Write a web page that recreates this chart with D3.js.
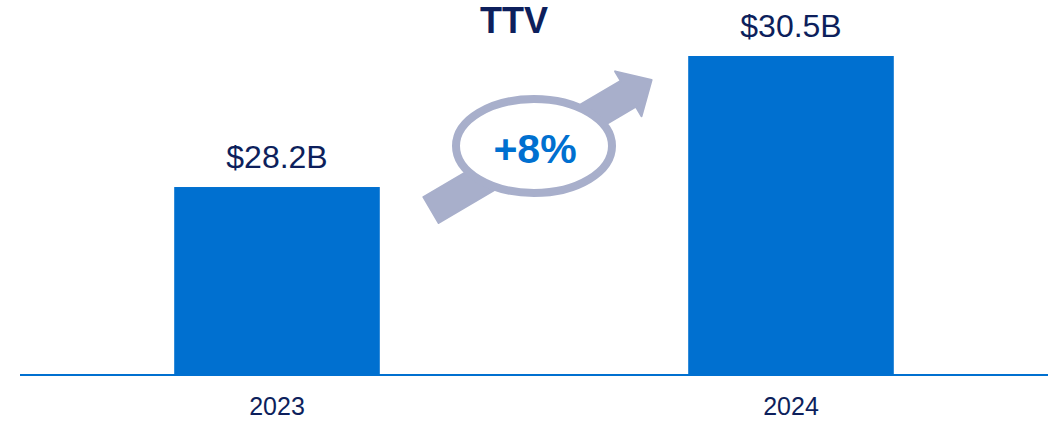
<!DOCTYPE html>
<html>
<head>
<meta charset="utf-8">
<script src="https://cdn.jsdelivr.net/npm/d3@7"></script>
<style>
  html, body { margin: 0; padding: 0; background: #ffffff; }
  svg { display: block; font-family: "Liberation Sans", Arial, sans-serif; }
</style>
</head>
<body>
<svg id="chart" width="1053" height="423"></svg>
<script>
// Total transaction value by year, in billions of dollars
const years = ["2023", "2024"];
const ttvValues = [28.2, 30.5];
const valueLabels = ["$28.2B", "$30.5B"];
const chartTitle = "TTV";

const W = 1053, H = 423;
const barColor = "#0070D0";
const textColor = "#0D1F5C";
const arrowColor = "#A8AFCB";

const svg = d3.select("#chart");

const x = d3.scaleBand()
  .domain(years)
  .range([20, 1048])
  .paddingInner(0.6)
  .paddingOuter(0.3);

// value axis starts above zero so the year-over-year gap reads clearly
const y = d3.scaleLinear()
  .domain([24.9, 30.5])
  .range([375, 56]);

const data = years.map((yr, i) => ({ year: yr, value: ttvValues[i], label: valueLabels[i] }));

// bars
svg.append("g")
  .selectAll("rect")
  .data(data)
  .join("rect")
  .attr("x", d => x(d.year))
  .attr("y", d => y(d.value))
  .attr("width", x.bandwidth())
  .attr("height", d => y.range()[0] - y(d.value))
  .attr("fill", barColor);

// baseline axis with year labels
const xAxis = svg.append("g")
  .attr("transform", `translate(0,${y.range()[0]})`)
  .call(d3.axisBottom(x).tickSize(0).tickPadding(0));
xAxis.select(".domain")
  .attr("d", `M${x.range()[0]},0H${x.range()[1]}`)
  .attr("stroke", barColor)
  .attr("stroke-width", 2);
xAxis.selectAll(".tick text")
  .attr("dy", null)
  .attr("y", 40)
  .attr("fill", textColor)
  .attr("font-size", 25)
  .attr("font-family", "Liberation Sans, Arial, sans-serif");

// value labels above bars
svg.append("g")
  .selectAll("text")
  .data(data)
  .join("text")
  .attr("x", d => x(d.year) + x.bandwidth() / 2)
  .attr("y", d => y(d.value) - 19)
  .attr("text-anchor", "middle")
  .attr("font-size", 32)
  .attr("fill", textColor)
  .text(d => d.label);

// title
svg.append("text")
  .attr("x", 514)
  .attr("y", 33)
  .attr("text-anchor", "middle")
  .attr("font-size", 36)
  .attr("font-weight", "bold")
  .attr("fill", textColor)
  .text(chartTitle);

// growth arrow between the two bars
const cx = (x(years[0]) + x(years[1]) + x.bandwidth()) / 2;
const cy = 146;
const arrow = svg.append("g")
  .attr("transform", `translate(431,210) rotate(-30.5)`);
const shaftHalf = 15, headHalf = 26, headBase = 229, tipX = 256;
arrow.append("path")
  .attr("d", `M0,${-shaftHalf}L${headBase},${-shaftHalf}L${headBase},${-headHalf}L${tipX},0L${headBase},${headHalf}L${headBase},${shaftHalf}L0,${shaftHalf}Z`)
  .attr("fill", arrowColor)
  .attr("stroke", arrowColor)
  .attr("stroke-width", 2)
  .attr("stroke-linejoin", "round");

// growth badge
svg.append("ellipse")
  .attr("cx", cx)
  .attr("cy", cy)
  .attr("rx", 78)
  .attr("ry", 47)
  .attr("fill", "#ffffff")
  .attr("stroke", arrowColor)
  .attr("stroke-width", 8);

const growth = ttvValues[1] / ttvValues[0] - 1;
svg.append("text")
  .attr("x", cx + 1)
  .attr("y", 163)
  .attr("text-anchor", "middle")
  .attr("font-size", 41)
  .attr("font-weight", "bold")
  .attr("fill", barColor)
  .text("+" + d3.format(".0%")(growth));
</script>
</body>
</html>
